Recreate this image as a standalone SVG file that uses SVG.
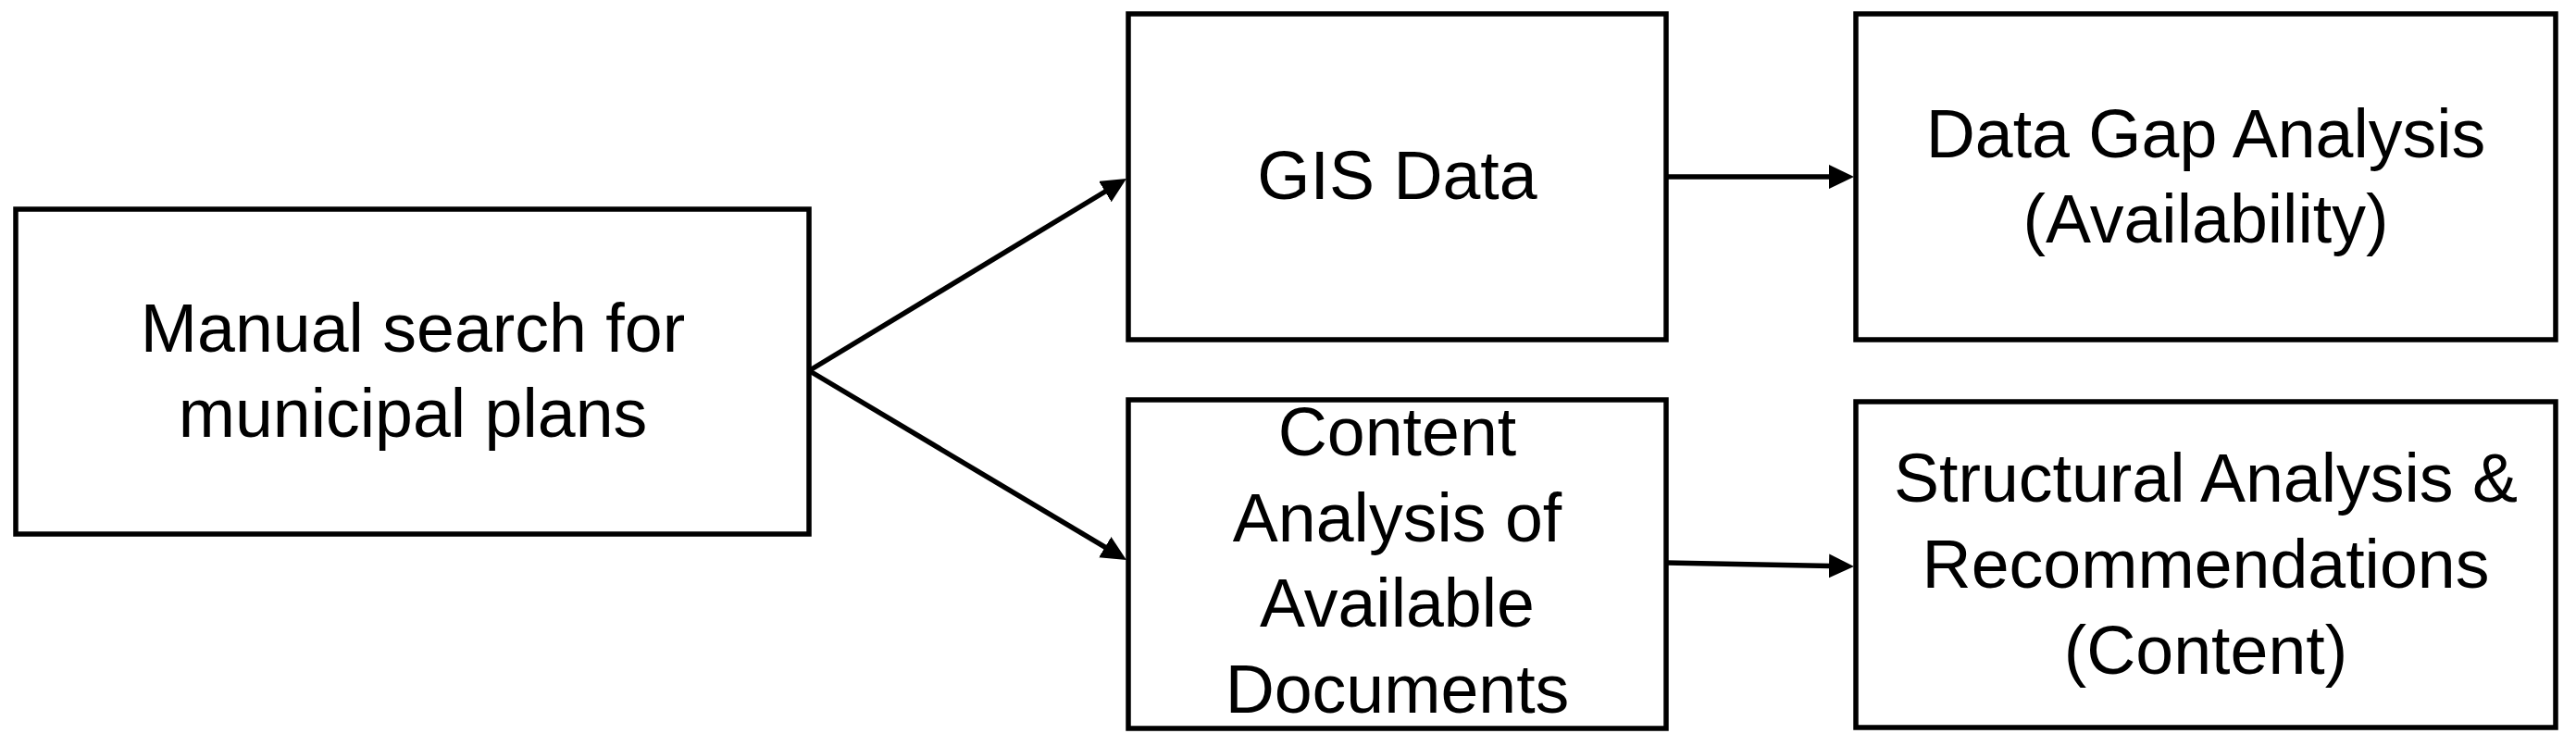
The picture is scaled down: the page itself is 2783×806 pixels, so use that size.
<svg xmlns="http://www.w3.org/2000/svg" width="2783" height="806" viewBox="0 0 2783 806">
  <style>
    .box { fill: #ffffff; stroke: #000000; stroke-width: 5.5; }
    .lbl { font-family: "Liberation Sans", Arial, sans-serif; font-size: 73.5px; fill: #000000; text-anchor: middle; }
    .conn { stroke: #000000; stroke-width: 5.5; fill: none; marker-end: url(#arrow); }
  </style>
  <defs>
    <marker id="arrow" markerUnits="userSpaceOnUse" markerWidth="30" markerHeight="28" refX="2" refY="13" orient="auto" viewBox="0 0 30 28">
      <path d="M0,0 L27,13 L0,26 z" fill="#000000"/>
    </marker>
  </defs>
  <rect x="0" y="0" width="2783" height="806" fill="#ffffff"/>

  <g id="node-manual-search">
    <rect class="box" x="17" y="226" width="857" height="351"/>
    <text class="lbl" x="446" y="380">Manual search for</text>
    <text class="lbl" x="446" y="472">municipal plans</text>
  </g>

  <g id="node-gis-data">
    <rect class="box" x="1219" y="15" width="581" height="352"/>
    <text class="lbl" x="1509.5" y="215">GIS Data</text>
  </g>

  <g id="node-content-analysis">
    <rect class="box" x="1219" y="432" width="581" height="355"/>
    <text class="lbl" x="1509.5" y="492">Content</text>
    <text class="lbl" x="1509.5" y="585">Analysis of</text>
    <text class="lbl" x="1509.5" y="677">Available</text>
    <text class="lbl" x="1509.5" y="770">Documents</text>
  </g>

  <g id="node-data-gap">
    <rect class="box" x="2005" y="15" width="756" height="352"/>
    <text class="lbl" x="2383" y="170">Data Gap Analysis</text>
    <text class="lbl" x="2383" y="262">(Availability)</text>
  </g>

  <g id="node-structural">
    <rect class="box" x="2005" y="434" width="756" height="352"/>
    <text class="lbl" x="2383" y="542">Structural Analysis &amp;</text>
    <text class="lbl" x="2383" y="635">Recommendations</text>
    <text class="lbl" x="2383" y="728">(Content)</text>
  </g>

  <g id="connectors">
    <line class="conn" x1="875" y1="400" x2="1195.6" y2="206"/>
    <line class="conn" x1="875" y1="401" x2="1195.5" y2="592.2"/>
    <line class="conn" x1="1800" y1="191" x2="1978" y2="191"/>
    <line class="conn" x1="1800" y1="608" x2="1978" y2="611.5"/>
  </g>
</svg>
